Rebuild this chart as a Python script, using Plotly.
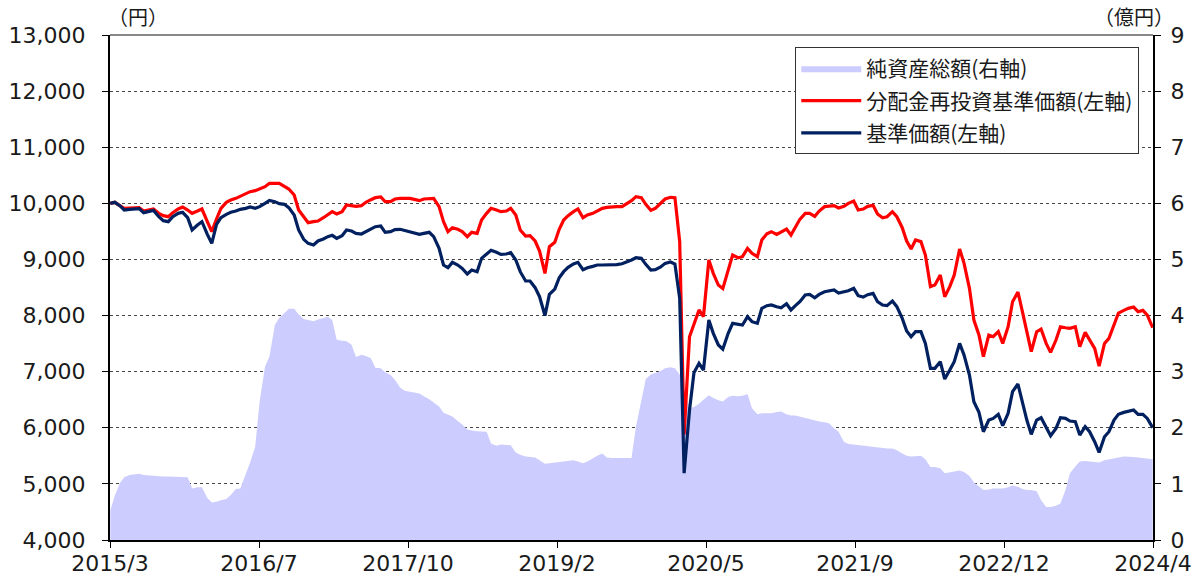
import pandas as pd
import plotly.graph_objects as go
from datetime import datetime, timedelta

# semi-monthly observation dates
dates = pd.date_range("2015-04-01", "2024-04-01", freq="SMS")

tick_labels = ["2015/3", "2016/7", "2017/10", "2019/2", "2020/5", "2021/9", "2022/12", "2024/4"]

nav_price = [  # 基準価額 (円)
    10000, 10018, 9958, 9881, 9893, 9905, 9905, 9834, 9851, 9875, 9762, 9691, 9673, 9762, 9822,
    9840, 9745, 9525, 9614, 9673, 9447, 9287, 9626, 9745, 9804, 9840, 9863, 9893, 9911, 9935,
    9911, 9941, 10000, 10053, 10030, 9994, 9982, 9923, 9792, 9525, 9358, 9287, 9257,
    9329, 9364, 9406, 9430, 9376, 9424, 9525, 9507, 9465, 9453, 9495, 9554, 9584, 9596, 9483,
    9495, 9531, 9537, 9513, 9495, 9471, 9447, 9465, 9483, 9406, 9198, 8901, 8853, 8948, 8901,
    8841, 8740, 8812, 8782, 9020, 9091, 9162, 9127, 9091, 9097, 9121, 8990,
    8782, 8616, 8616, 8497, 8336, 8000, 8378, 8473, 8675, 8782, 8859, 8919, 8948, 8818, 8853,
    8877, 8901, 8901, 8901, 8901, 8907, 8924, 8948, 8990, 9031, 9020, 8913, 8812, 8818, 8865,
    8930, 8954, 8919, 8307, 5190, 6316, 6980, 7148, 7029, 7920, 7683, 7475, 7400,
    7683, 7861, 7843, 7831, 7980, 7891, 7861, 8128, 8176, 8188, 8158, 8140, 8211, 8099, 8176,
    8247, 8366, 8378, 8318, 8378, 8425, 8443, 8455, 8402, 8425, 8443, 8485, 8354, 8330, 8372,
    8396, 8247, 8188, 8176, 8259, 8158, 7950, 7724, 7623, 7712, 7712, 7504,
    7059, 7059, 7178, 6869, 7029, 7178, 7504, 7296, 6940, 6464, 6274, 5930, 6138, 6167, 6239,
    6037, 6257, 6643, 6780, 6464, 6138, 5882, 6138, 6179, 6019, 5858, 5989, 6179, 6167, 6120,
    6108, 5870, 6019, 5930, 5751, 5560, 5841, 5930, 6138, 6239, 6274, 6298, 6316, 6239, 6239,
    6167, 6001,
]

reinvested = [  # 分配金再投資基準価額 (円)
    10000, 10018, 9958, 9911, 9917, 9923, 9923, 9863, 9881, 9899, 9822, 9780, 9762, 9834, 9899,
    9935, 9881, 9822, 9863, 9899, 9673, 9495, 9721, 9911, 10018, 10059, 10089, 10125, 10160, 10208,
    10226, 10255, 10297, 10357, 10357, 10357, 10303, 10255, 10149, 9881, 9762, 9655, 9673,
    9685, 9744, 9792, 9851, 9810, 9851, 9970, 9958, 9947, 9958, 10018, 10065, 10101, 10113, 10030,
    10030, 10077, 10089, 10089, 10089, 10071, 10048, 10077, 10089, 10089, 9941, 9673, 9495, 9566, 9537,
    9495, 9406, 9483, 9465, 9703, 9822, 9911, 9881, 9851, 9863, 9911, 9792,
    9525, 9418, 9424, 9329, 9150, 8750, 9228, 9305, 9537, 9703, 9780, 9851, 9899, 9744, 9792,
    9822, 9869, 9911, 9929, 9941, 9941, 9941, 9988, 10048, 10119, 10101, 9982, 9875, 9911, 10000,
    10077, 10107, 10101, 9317, 5880, 7623, 7861, 8099, 7980, 8990, 8752, 8544, 8480,
    8812, 9079, 9031, 9049, 9198, 9109, 9049, 9346, 9459, 9495, 9447, 9483, 9542, 9436, 9584,
    9715, 9822, 9822, 9768, 9863, 9941, 9952, 9958, 9917, 9947, 10000, 10042, 9881, 9899, 9947,
    9964, 9810, 9744, 9762, 9851, 9762, 9566, 9329, 9186, 9346, 9317, 9079,
    8515, 8544, 8722, 8336, 8515, 8722, 9186, 8930, 8485, 7920, 7653, 7267, 7653, 7623, 7712,
    7504, 7801, 8247, 8420, 8069, 7712, 7356, 7712, 7760, 7504, 7344, 7564, 7801, 7783, 7772,
    7801, 7445, 7700, 7564, 7415, 7100, 7504, 7593, 7849, 8045, 8093, 8128, 8152, 8069, 8093,
    8009, 7783,
]

net_assets = [  # 純資産総額 (億円)
    0.53, 0.79, 1.01, 1.12, 1.16, 1.17, 1.18, 1.16, 1.15, 1.14, 1.13, 1.13, 1.13, 1.13, 1.13,
    1.13, 1.12, 0.92, 0.94, 0.94, 0.75, 0.67, 0.68, 0.71, 0.73, 0.80, 0.91, 0.92, 1.16, 1.38,
    1.66, 2.47, 3.09, 3.27, 3.83, 3.96, 4.04, 4.12, 4.12, 4.02, 3.94, 3.92, 3.90,
    3.93, 3.95, 3.98, 3.92, 3.57, 3.55, 3.54, 3.48, 3.26, 3.30, 3.28, 3.24, 3.07, 3.06, 2.99,
    2.94, 2.85, 2.72, 2.66, 2.64, 2.63, 2.61, 2.56, 2.51, 2.45, 2.38, 2.27, 2.23, 2.20, 2.12,
    2.06, 1.97, 1.95, 1.94, 1.94, 1.93, 1.72, 1.68, 1.70, 1.70, 1.69, 1.56,
    1.52, 1.49, 1.48, 1.47, 1.42, 1.36, 1.37, 1.38, 1.39, 1.40, 1.41, 1.42, 1.40, 1.37, 1.40,
    1.46, 1.50, 1.54, 1.47, 1.46, 1.46, 1.46, 1.46, 1.46, 2.02, 2.47, 2.87, 2.95, 2.98, 3.01,
    3.06, 3.08, 3.06, 2.95, 2.70, 2.35, 2.37, 2.43, 2.50, 2.58, 2.53, 2.49, 2.47,
    2.55, 2.57, 2.56, 2.57, 2.60, 2.35, 2.24, 2.26, 2.26, 2.26, 2.28, 2.29, 2.24, 2.22, 2.22,
    2.20, 2.17, 2.15, 2.12, 2.11, 2.10, 2.08, 1.99, 1.93, 1.75, 1.71, 1.70, 1.69, 1.68, 1.67,
    1.66, 1.65, 1.64, 1.63, 1.63, 1.60, 1.54, 1.50, 1.49, 1.50, 1.50, 1.44,
    1.30, 1.30, 1.28, 1.19, 1.21, 1.22, 1.24, 1.21, 1.14, 1.03, 0.95, 0.89, 0.90, 0.92, 0.92,
    0.92, 0.94, 0.97, 0.95, 0.91, 0.89, 0.89, 0.87, 0.71, 0.59, 0.59, 0.61, 0.65, 0.89, 1.19,
    1.31, 1.40, 1.41, 1.40, 1.38, 1.38, 1.42, 1.44, 1.46, 1.47, 1.49, 1.49, 1.48, 1.47, 1.46,
    1.46, 1.44,
]

series_names = ["純資産総額(右軸)", "分配金再投資基準価額(左軸)", "基準価額(左軸)"]

# equally spaced x ticks (every 470 days)
t0 = datetime(2015, 3, 31)
tick_vals = [t0 + timedelta(days=470 * i) for i in range(len(tick_labels))]

FONT = "DejaVu Sans, Noto Sans CJK JP, sans-serif"
CJK = "Noto Sans CJK JP, sans-serif"
TXT = "#1a1a1a"
TICKSIZE = 22

fig = go.Figure()
fig.add_trace(go.Scatter(
    x=dates, y=net_assets, name=series_names[0], mode="lines",
    line=dict(width=0, color="#CCCCFF"), fill="tozeroy", fillcolor="#CCCCFF",
    yaxis="y", legendgroup="a",
))
fig.add_trace(go.Scatter(
    x=dates, y=reinvested, name=series_names[1], mode="lines",
    line=dict(width=3.2, color="#FF0000"), yaxis="y2", legendgroup="b",
))
fig.add_trace(go.Scatter(
    x=dates, y=nav_price, name=series_names[2], mode="lines",
    line=dict(width=3.2, color="#002060"), yaxis="y2", legendgroup="c",
))

fig.update_layout(
    width=1199, height=577,
    margin=dict(l=110, r=46, t=35, b=37, autoexpand=False),
    paper_bgcolor="white", plot_bgcolor="white",
    font=dict(family=FONT, color=TXT),
    showlegend=True,
    legend=dict(
        x=0.657, y=0.976, xanchor="left", yanchor="top",
        bordercolor="#333", borderwidth=1, bgcolor="white",
        font=dict(size=21, family=CJK, color=TXT),
        tracegroupgap=2, itemwidth=60,
    ),
    xaxis=dict(
        type="date", range=[tick_vals[0], tick_vals[-1]],
        tickvals=tick_vals, ticktext=tick_labels,
        ticks="outside", ticklen=6, tickcolor="#000", tickwidth=1,
        showline=True, linecolor="#000", linewidth=2,
        showgrid=False, zeroline=False, automargin=False, ticklabelstandoff=-3,
        tickfont=dict(size=TICKSIZE, family=FONT, color=TXT),
    ),
    yaxis=dict(
        side="right", range=[0, 9], tickvals=list(range(0, 10)),
        ticks="outside", ticklen=6, tickcolor="#000",
        showline=True, linecolor="#000", linewidth=2,
        showgrid=True, gridcolor="#444", griddash="dot", gridwidth=1,
        zeroline=False, automargin=False, ticklabelstandoff=5,
        tickfont=dict(size=TICKSIZE, family=FONT, color=TXT),
    ),
    yaxis2=dict(
        overlaying="y", side="left", range=[4000, 13000], dtick=1000,
        tickformat=",", ticks="outside", ticklen=6, tickcolor="#000",
        showline=True, linecolor="#000", linewidth=2,
        showgrid=False, zeroline=False, automargin=False, ticklabelstandoff=12,
        tickfont=dict(size=TICKSIZE, family=FONT, color=TXT),
    ),
    shapes=[dict(type="line", xref="paper", yref="paper", x0=0, x1=1, y0=1, y1=1,
                 line=dict(color="#888", width=2))],
    annotations=[
        dict(text="（円）", xref="paper", yref="paper", x=0.027, y=1.036,
             xanchor="center", yanchor="middle", showarrow=False,
             font=dict(size=20, family=CJK, color=TXT)),
        dict(text="（億円）", xref="paper", yref="paper", x=0.982, y=1.036,
             xanchor="center", yanchor="middle", showarrow=False,
             font=dict(size=20, family=CJK, color=TXT)),
    ],
    hovermode=False,
)

fig.write_html(
    "out.html",
    config={"displayModeBar": False},
    post_script="document.body.style.margin='0px';",
)
